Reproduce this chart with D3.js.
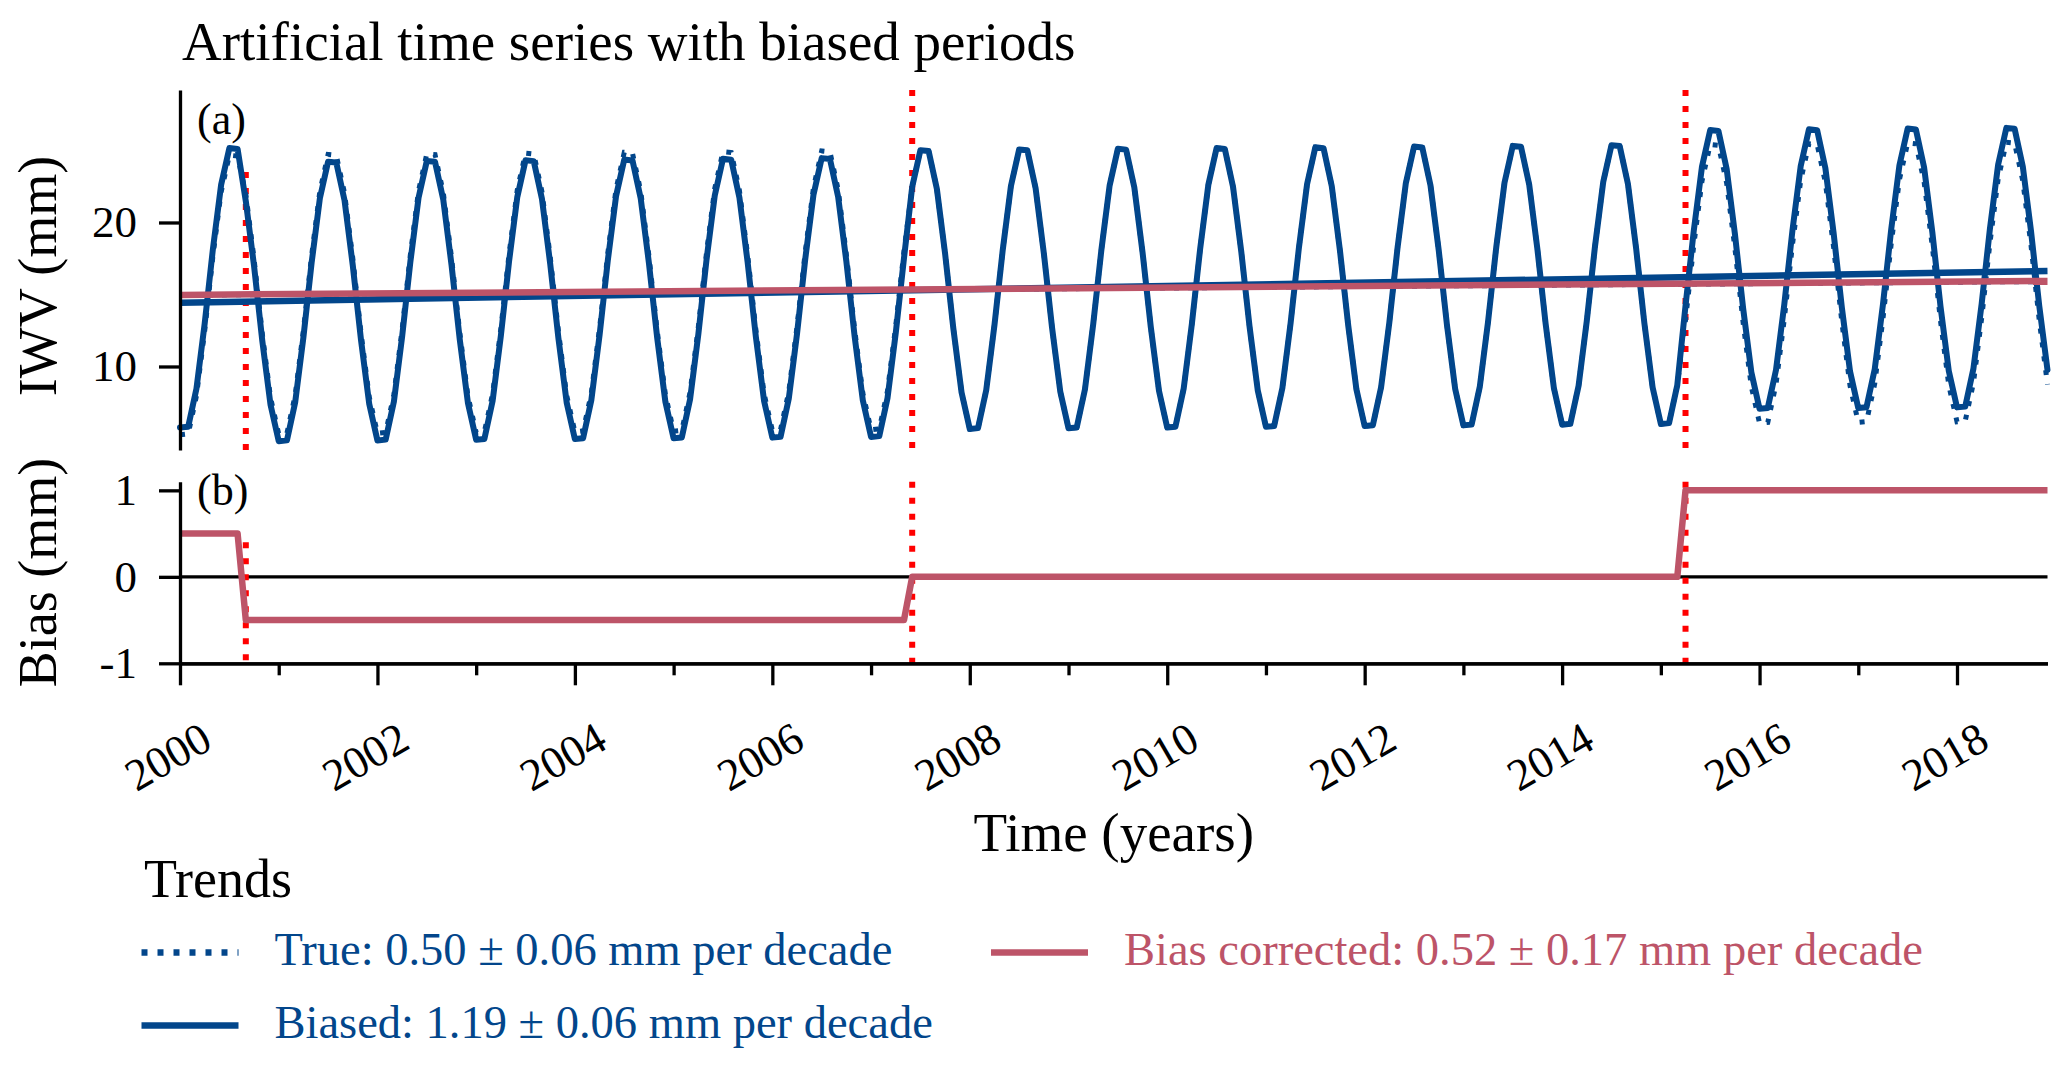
<!DOCTYPE html>
<html>
<head>
<meta charset="utf-8">
<script src="https://cdn.jsdelivr.net/npm/d3@7"></script>
<style>
  body { margin: 0; background: #fff; }
  svg text { font-family: 'Liberation Serif', 'DejaVu Serif', serif; fill: #000; }
</style>
</head>
<body>
<div id="chart"></div>
<script>
// monthly values, one row per year (Jan..Dec)
const years = [2000, 2001, 2002, 2003, 2004, 2005, 2006, 2007, 2008, 2009,
  2010, 2011, 2012, 2013, 2014, 2015, 2016, 2017, 2018]

const trueIWV = [
  [5.26, 5.32, 7.96, 12.47, 17.66, 22.12, 24.67, 24.61, 21.98, 17.48, 12.30, 7.85],
  [5.31, 5.37, 8.01, 12.52, 17.71, 22.17, 24.72, 24.66, 22.03, 17.53, 12.35, 7.90],
  [5.36, 5.42, 8.06, 12.57, 17.76, 22.22, 24.77, 24.71, 22.08, 17.58, 12.40, 7.95],
  [5.41, 5.47, 8.11, 12.62, 17.81, 22.27, 24.82, 24.76, 22.13, 17.63, 12.45, 8.00],
  [5.46, 5.52, 8.16, 12.67, 17.86, 22.32, 24.87, 24.81, 22.18, 17.68, 12.50, 8.05],
  [5.51, 5.57, 8.21, 12.72, 17.91, 22.37, 24.92, 24.86, 22.23, 17.73, 12.55, 8.10],
  [5.56, 5.62, 8.26, 12.77, 17.96, 22.42, 24.97, 24.91, 22.28, 17.78, 12.60, 8.15],
  [5.61, 5.67, 8.31, 12.82, 18.01, 22.47, 25.02, 24.96, 22.33, 17.83, 12.65, 8.20],
  [5.66, 5.72, 8.36, 12.87, 18.06, 22.52, 25.07, 25.01, 22.38, 17.88, 12.70, 8.25],
  [5.71, 5.77, 8.41, 12.92, 18.11, 22.57, 25.12, 25.06, 22.43, 17.93, 12.75, 8.30],
  [5.76, 5.82, 8.46, 12.97, 18.16, 22.62, 25.17, 25.11, 22.48, 17.98, 12.80, 8.35],
  [5.81, 5.87, 8.51, 13.02, 18.21, 22.67, 25.22, 25.16, 22.53, 18.03, 12.85, 8.40],
  [5.86, 5.92, 8.56, 13.07, 18.26, 22.72, 25.27, 25.21, 22.58, 18.08, 12.90, 8.45],
  [5.91, 5.97, 8.61, 13.12, 18.31, 22.77, 25.32, 25.26, 22.63, 18.13, 12.95, 8.50],
  [5.96, 6.02, 8.66, 13.17, 18.36, 22.82, 25.37, 25.31, 22.68, 18.18, 13.00, 8.55],
  [6.01, 6.07, 8.71, 13.22, 18.41, 22.87, 25.42, 25.36, 22.73, 18.23, 13.05, 8.60],
  [6.06, 6.12, 8.76, 13.27, 18.46, 22.92, 25.47, 25.41, 22.78, 18.28, 13.10, 8.65],
  [6.11, 6.17, 8.81, 13.32, 18.51, 22.97, 25.52, 25.46, 22.83, 18.33, 13.15, 8.70],
  [6.16, 6.22, 8.86, 13.37, 18.56, 23.02, 25.57, 25.51, 22.88, 18.38, 13.20, 8.75]
]

const biasedIWV = [
  [5.76, 5.82, 8.46, 12.97, 18.16, 22.62, 25.17, 25.11, 21.48, 16.98, 11.80, 7.35],
  [4.81, 4.87, 7.51, 12.02, 17.21, 21.67, 24.22, 24.16, 21.53, 17.03, 11.85, 7.40],
  [4.86, 4.92, 7.56, 12.07, 17.26, 21.72, 24.27, 24.21, 21.58, 17.08, 11.90, 7.45],
  [4.91, 4.97, 7.61, 12.12, 17.31, 21.77, 24.32, 24.26, 21.63, 17.13, 11.95, 7.50],
  [4.96, 5.02, 7.66, 12.17, 17.36, 21.82, 24.37, 24.31, 21.68, 17.18, 12.00, 7.55],
  [5.01, 5.07, 7.71, 12.22, 17.41, 21.87, 24.42, 24.36, 21.73, 17.23, 12.05, 7.60],
  [5.06, 5.12, 7.76, 12.27, 17.46, 21.92, 24.47, 24.41, 21.78, 17.28, 12.10, 7.65],
  [5.11, 5.17, 7.81, 12.32, 17.51, 22.47, 25.02, 24.96, 22.33, 17.83, 12.65, 8.20],
  [5.66, 5.72, 8.36, 12.87, 18.06, 22.52, 25.07, 25.01, 22.38, 17.88, 12.70, 8.25],
  [5.71, 5.77, 8.41, 12.92, 18.11, 22.57, 25.12, 25.06, 22.43, 17.93, 12.75, 8.30],
  [5.76, 5.82, 8.46, 12.97, 18.16, 22.62, 25.17, 25.11, 22.48, 17.98, 12.80, 8.35],
  [5.81, 5.87, 8.51, 13.02, 18.21, 22.67, 25.22, 25.16, 22.53, 18.03, 12.85, 8.40],
  [5.86, 5.92, 8.56, 13.07, 18.26, 22.72, 25.27, 25.21, 22.58, 18.08, 12.90, 8.45],
  [5.91, 5.97, 8.61, 13.12, 18.31, 22.77, 25.32, 25.26, 22.63, 18.13, 12.95, 8.50],
  [5.96, 6.02, 8.66, 13.17, 18.36, 22.82, 25.37, 25.31, 22.68, 18.18, 13.00, 8.55],
  [6.01, 6.07, 8.71, 14.22, 19.41, 23.87, 26.42, 26.36, 23.73, 19.23, 14.05, 9.60],
  [7.06, 7.12, 9.76, 14.27, 19.46, 23.92, 26.47, 26.41, 23.78, 19.28, 14.10, 9.65],
  [7.11, 7.17, 9.81, 14.32, 19.51, 23.97, 26.52, 26.46, 23.83, 19.33, 14.15, 9.70],
  [7.16, 7.22, 9.86, 14.37, 19.56, 24.02, 26.57, 26.51, 23.88, 19.38, 14.20, 9.75]
]

// bias corners: [year, month index, bias in mm]
const biasSteps = [
  [2000, 0, 0.5], [2000, 7, 0.5], [2000, 8, -0.5], [2007, 4, -0.5],
  [2007, 5, 0], [2015, 2, 0], [2015, 3, 1], [2018, 11, 1]
]

// breakpoints [year, month], and how high the dotted marker reaches in each panel
const breakpoints = [[2000, 8], [2007, 5], [2015, 3]]
const breakTopIWV = [23.5, 29.2, 29.2]
const breakTopBias = [0.4, 1.1, 1.1]

// trend lines: value at first and last month
const trendTrue = [14.95, 15.90]
const trendBiased = [14.43, 16.63]
const trendCorrected = [14.97, 15.94]

const iwvTicks = [10, 20]
const biasTicks = [-1, 0, 1]
const majorYears = [2000, 2002, 2004, 2006, 2008, 2010, 2012, 2014, 2016, 2018]
const minorYears = [2001, 2003, 2005, 2007, 2009, 2011, 2013, 2015, 2017]

const legendLabels = [
  'True: 0.50 \u00b1 0.06 mm per decade',
  'Biased: 1.19 \u00b1 0.06 mm per decade',
  'Bias corrected: 0.52 \u00b1 0.17 mm per decade'
]

const BLUE = '#02468b'
const PINK = '#bd5468'
const RED = '#ff0000'
const SERIF = "'Liberation Serif', 'DejaVu Serif', serif"

const width = 2067
const height = 1066
const left = 180
const right = 2047.5
const panelA = { top: 90, bottom: 450 }
const panelB = { top: 481.7, bottom: 663.3 }

const decYear = (yr, m) => yr + m / 12
const firstT = decYear(years[0], 0)
const lastT = decYear(years[years.length - 1], 11)

const x = d3.scaleLinear().domain([firstT, lastT]).range([left, right])
const yA = d3.scaleLinear().domain([4.2, 29.2]).range([panelA.bottom, panelA.top])
const yB = d3.scaleLinear().domain([-1, 1.1]).range([panelB.bottom, panelB.top])

const toPoints = rows => rows.flatMap((row, i) => row.map((v, m) => ({ t: decYear(years[i], m), v })))

const svg = d3.select('#chart').append('svg')
    .attr('width', width)
    .attr('height', height)
    .style('display', 'block')

svg.append('text')
    .attr('x', 182)
    .attr('y', 60)
    .attr('font-size', 55)
    .text('Artificial time series with biased periods')

// ---------- panel (a) ----------
const gA = svg.append('g')
const lineA = d3.line().x(d => x(d.t)).y(d => yA(d.v))

gA.selectAll('line.brk')
    .data(breakpoints).enter()
  .append('line')
    .attr('x1', d => x(decYear(d[0], d[1])))
    .attr('x2', d => x(decYear(d[0], d[1])))
    .attr('y1', (d, i) => yA(breakTopIWV[i]))
    .attr('y2', panelA.bottom)
    .attr('stroke', RED)
    .attr('stroke-width', 6)
    .attr('stroke-dasharray', '6,10')

gA.append('path')
    .datum(toPoints(biasedIWV))
    .attr('d', lineA)
    .attr('fill', 'none')
    .attr('stroke', BLUE)
    .attr('stroke-width', 6)
    .attr('stroke-linejoin', 'round')
    .attr('stroke-linecap', 'round')

gA.append('path')
    .datum(toPoints(trueIWV))
    .attr('d', lineA)
    .attr('fill', 'none')
    .attr('stroke', BLUE)
    .attr('stroke-width', 5)
    .attr('stroke-dasharray', '5,9')

function trendPoints(tr) {
  return [{ t: firstT, v: tr[0] }, { t: lastT, v: tr[1] }]
}

gA.append('path')
    .datum(trendPoints(trendBiased))
    .attr('d', lineA)
    .attr('fill', 'none')
    .attr('stroke', BLUE)
    .attr('stroke-width', 6.5)

gA.append('path')
    .datum(trendPoints(trendTrue))
    .attr('d', lineA)
    .attr('fill', 'none')
    .attr('stroke', BLUE)
    .attr('stroke-width', 5)
    .attr('stroke-dasharray', '5,9')

gA.append('path')
    .datum(trendPoints(trendCorrected))
    .attr('d', lineA)
    .attr('fill', 'none')
    .attr('stroke', PINK)
    .attr('stroke-width', 6.5)

gA.append('g')
    .attr('transform', `translate(${left},0)`)
    .call(d3.axisLeft(yA).tickValues(iwvTicks).tickSize(21).tickSizeOuter(0).tickPadding(22).tickFormat(d => String(d)))

gA.append('text')
    .attr('x', 197)
    .attr('y', 134)
    .attr('font-size', 44)
    .text('(a)')

gA.append('text')
    .attr('transform', `translate(56,${(panelA.top + panelA.bottom) / 2 + 6}) rotate(-90)`)
    .attr('text-anchor', 'middle')
    .attr('font-size', 54)
    .text('IWV (mm)')

// ---------- panel (b) ----------
const gB = svg.append('g')
const lineB = d3.line().x(d => x(d.t)).y(d => yB(d.v))

gB.append('line')
    .attr('x1', left)
    .attr('x2', right)
    .attr('y1', yB(0))
    .attr('y2', yB(0))
    .attr('stroke', '#000')
    .attr('stroke-width', 3.3)

gB.selectAll('line.brk')
    .data(breakpoints).enter()
  .append('line')
    .attr('x1', d => x(decYear(d[0], d[1])))
    .attr('x2', d => x(decYear(d[0], d[1])))
    .attr('y1', (d, i) => yB(breakTopBias[i]))
    .attr('y2', panelB.bottom)
    .attr('stroke', RED)
    .attr('stroke-width', 6)
    .attr('stroke-dasharray', '6,10')

gB.append('path')
    .datum(biasSteps.map(d => ({ t: decYear(d[0], d[1]), v: d[2] })))
    .attr('d', lineB)
    .attr('fill', 'none')
    .attr('stroke', PINK)
    .attr('stroke-width', 6.5)
    .attr('stroke-linejoin', 'round')

// plain hyphen for the minus sign, like the original
gB.append('g')
    .attr('transform', `translate(${left},0)`)
    .call(d3.axisLeft(yB).tickValues(biasTicks).tickSize(21).tickSizeOuter(0).tickPadding(22).tickFormat(d => String(d)))

gB.append('g')
    .attr('transform', `translate(0,${panelB.bottom})`)
    .call(d3.axisBottom(x).tickValues(minorYears).tickSize(12).tickSizeOuter(0).tickFormat(''))

const xMajor = gB.append('g')
    .attr('transform', `translate(0,${panelB.bottom})`)
    .call(d3.axisBottom(x).tickValues(majorYears).tickSize(22).tickSizeOuter(0).tickFormat(d => String(d)))

xMajor.selectAll('text')
    .attr('x', 0)
    .attr('y', 0)
    .attr('dy', 0)
    .attr('text-anchor', 'end')
    .attr('transform', 'translate(34,84) rotate(-30)')

gB.append('text')
    .attr('x', 197)
    .attr('y', 505)
    .attr('font-size', 44)
    .text('(b)')

gB.append('text')
    .attr('transform', `translate(56,${(panelB.top + panelB.bottom) / 2}) rotate(-90)`)
    .attr('text-anchor', 'middle')
    .attr('font-size', 54)
    .text('Bias (mm)')

// shared axis styling
svg.selectAll('.domain, .tick line')
    .attr('stroke', '#000')
    .attr('stroke-width', 3.3)
svg.selectAll('.tick text')
    .style('font-family', SERIF)
    .style('font-size', '45px')
    .style('fill', '#000')

svg.append('text')
    .attr('x', (left + right) / 2)
    .attr('y', 851)
    .attr('text-anchor', 'middle')
    .attr('font-size', 55)
    .text('Time (years)')

// ---------- legend ----------
const legend = svg.append('g')
legend.append('text')
    .attr('x', 144)
    .attr('y', 897)
    .attr('font-size', 54)
    .text('Trends')

const legendRows = [
  { x: 141.5, y: 952.5, color: BLUE, dash: '6,10', label: legendLabels[0] },
  { x: 141.5, y: 1025.5, color: BLUE, dash: null, label: legendLabels[1] },
  { x: 991, y: 952.5, color: PINK, dash: null, label: legendLabels[2] }
]

const rows = legend.selectAll('g.row')
    .data(legendRows).enter()
  .append('g')
    .attr('transform', d => `translate(${d.x},${d.y})`)

rows.append('line')
    .attr('x1', 0)
    .attr('x2', 97)
    .attr('stroke', d => d.color)
    .attr('stroke-width', 6.5)
    .attr('stroke-dasharray', d => d.dash)

rows.append('text')
    .attr('x', 133)
    .attr('y', 12.5)
    .attr('font-size', 46.5)
    .style('fill', d => d.color)
    .text(d => d.label)
</script>
</body>
</html>
